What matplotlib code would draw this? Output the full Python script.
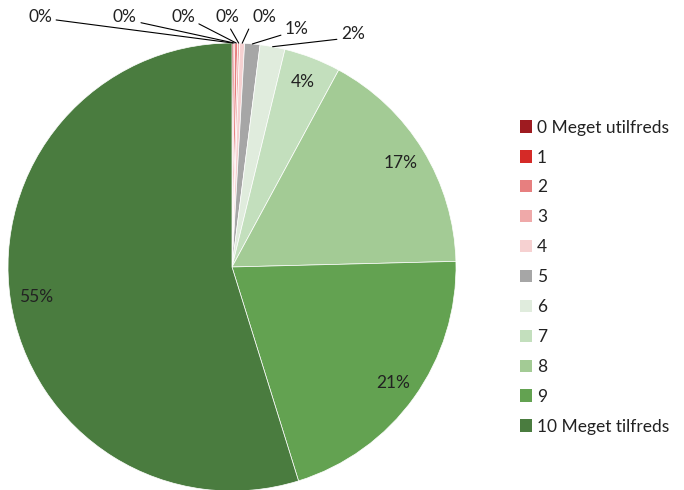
import matplotlib
matplotlib.use('Agg')
from matplotlib import pyplot as plt
from matplotlib.patches import Patch
import numpy as np

plt.rcParams['font.family'] = ['Lato', 'DejaVu Sans']

# andel svar pr. score (procent)
kategorier = ['0 Meget utilfreds', '1', '2', '3', '4', '5', '6', '7', '8', '9', '10 Meget tilfreds']
andele = [0.1, 0.1, 0.2, 0.15, 0.35, 1.1, 1.8, 4.1, 16.7, 20.6, 54.8]
farver = ['#9e1b20', '#d52a27', '#e77f7f', '#efa9a9', '#f6d1d1', '#a6a6a6',
          '#e0ecdd', '#c3dfbd', '#a3cb95', '#63a251', '#4a7c3f']

# tekstplacering for de smaa udsnit (uden for cirklen)
ude_pos = [(-0.857, 1.116), (-0.478, 1.116), (-0.219, 1.116), (-0.022, 1.116),
           (0.143, 1.116), (0.29, 1.062), (0.54, 1.04)]
ude_rel = [(1.0, 0.35), (1.0, 0.2), (1.0, 0.2), (0.55, 0.0), (0.0, 0.2), (0.0, 0.2), (0.0, 0.2)]

fig = plt.figure(figsize=(6.84, 4.90), dpi=100)
ax = fig.add_axes([8 / 684, -1 / 490, 448 / 684, 448 / 490])

wedges, _ = ax.pie(andele, colors=farver, startangle=90, counterclock=False,
                   radius=1.0, wedgeprops=dict(edgecolor='white', linewidth=0.5))
ax.set_xlim(-1, 1)
ax.set_ylim(-1, 1)
ax.set_aspect('equal')
ax.axis('off')

for i, (w, v) in enumerate(zip(wedges, andele)):
    mid = np.deg2rad((w.theta1 + w.theta2) / 2)
    tekst = f'{round(v):.0f}%'
    if i < len(ude_pos):
        ax.annotate(tekst, xy=(np.cos(mid), np.sin(mid)), xytext=ude_pos[i],
                    ha='center', va='center', fontsize=12.5, color='#222222',
                    arrowprops=dict(arrowstyle='-', color='black', lw=0.8,
                                    shrinkA=1, shrinkB=0, relpos=ude_rel[i]))
    else:
        ax.text(0.885 * np.cos(mid), 0.885 * np.sin(mid), tekst, ha='center',
                va='center', fontsize=12.5, color='#222222')

handles = [Patch(facecolor=c, edgecolor='none') for c in farver]
fig.legend(handles, kategorier, loc='upper left', bbox_to_anchor=(504 / 684, 1 - 104 / 490),
           frameon=False, fontsize=12.5, labelspacing=0.8, handlelength=0.7,
           handleheight=0.7, handletextpad=0.3, labelcolor='#222222')

fig.savefig('out.png', dpi=100)
